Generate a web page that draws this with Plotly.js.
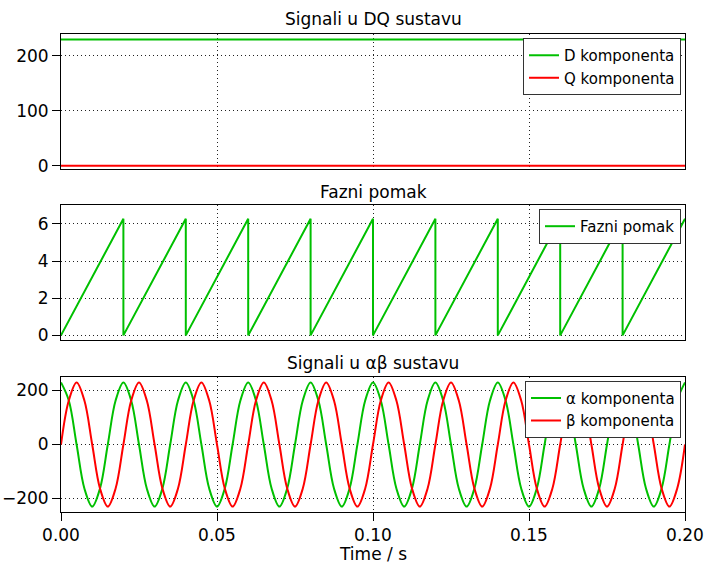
<!DOCTYPE html>
<html><head><meta charset="utf-8">
<script src="https://cdn.plot.ly/plotly-3.0.1.min.js"></script>
<style>html,body{margin:0;padding:0;background:#fff}#chart{width:712px;height:566px}</style>
</head><body><div id="chart"></div>
<script>
// --- data ---
const tDQ = [0, 0.2];
const dComp = [230, 230];
const qComp = [0, 0];

const tPhase = [0, 0.02, 0.02, 0.04, 0.04, 0.06, 0.06, 0.08, 0.08, 0.10, 0.10, 0.12, 0.12, 0.14, 0.14, 0.16, 0.16, 0.18, 0.18, 0.20];
const phase  = [0, 6.28, 0, 6.28, 0, 6.28, 0, 6.28, 0, 6.28, 0, 6.28, 0, 6.28, 0, 6.28, 0, 6.28, 0, 6.28];

const tAB = [
 0,0.0025,0.005,0.0075,0.01,0.0125,0.015,0.0175,
 0.02,0.0225,0.025,0.0275,0.03,0.0325,0.035,0.0375,
 0.04,0.0425,0.045,0.0475,0.05,0.0525,0.055,0.0575,
 0.06,0.0625,0.065,0.0675,0.07,0.0725,0.075,0.0775,
 0.08,0.0825,0.085,0.0875,0.09,0.0925,0.095,0.0975,
 0.1,0.1025,0.105,0.1075,0.11,0.1125,0.115,0.1175,
 0.12,0.1225,0.125,0.1275,0.13,0.1325,0.135,0.1375,
 0.14,0.1425,0.145,0.1475,0.15,0.1525,0.155,0.1575,
 0.16,0.1625,0.165,0.1675,0.17,0.1725,0.175,0.1775,
 0.18,0.1825,0.185,0.1875,0.19,0.1925,0.195,0.1975,
 0.2];
const alphaComp = [
 230,163,0,-163,-230,-163,0,163,
 230,163,0,-163,-230,-163,0,163,
 230,163,0,-163,-230,-163,0,163,
 230,163,0,-163,-230,-163,0,163,
 230,163,0,-163,-230,-163,0,163,
 230,163,0,-163,-230,-163,0,163,
 230,163,0,-163,-230,-163,0,163,
 230,163,0,-163,-230,-163,0,163,
 230,163,0,-163,-230,-163,0,163,
 230,163,0,-163,-230,-163,0,163,
 230];
const betaComp = [
 0,163,230,163,0,-163,-230,-163,
 0,163,230,163,0,-163,-230,-163,
 0,163,230,163,0,-163,-230,-163,
 0,163,230,163,0,-163,-230,-163,
 0,163,230,163,0,-163,-230,-163,
 0,163,230,163,0,-163,-230,-163,
 0,163,230,163,0,-163,-230,-163,
 0,163,230,163,0,-163,-230,-163,
 0,163,230,163,0,-163,-230,-163,
 0,163,230,163,0,-163,-230,-163,
 0];

const xTicks = [0, 0.05, 0.1, 0.15, 0.2];
const xTickText = ['0.00', '0.05', '0.10', '0.15', '0.20'];

const GREEN = '#00c000', RED = '#ff0000';
const FONT = 'DejaVu Sans, Verdana, sans-serif';

const traces = [
  {x: tDQ, y: dComp, name: 'D komponenta', type: 'scatter', mode: 'lines', line: {color: GREEN, width: 2}, xaxis: 'x', yaxis: 'y', legend: 'legend'},
  {x: tDQ, y: qComp, name: 'Q komponenta', type: 'scatter', mode: 'lines', line: {color: RED, width: 2}, xaxis: 'x', yaxis: 'y', legend: 'legend'},
  {x: tPhase, y: phase, name: 'Fazni pomak', type: 'scatter', mode: 'lines', line: {color: GREEN, width: 2}, xaxis: 'x2', yaxis: 'y2', legend: 'legend2'},
  {x: tAB, y: alphaComp, name: 'α komponenta', type: 'scatter', mode: 'lines', line: {color: GREEN, width: 2, shape: 'spline', smoothing: 1}, xaxis: 'x3', yaxis: 'y3', legend: 'legend3'},
  {x: tAB, y: betaComp, name: 'β komponenta', type: 'scatter', mode: 'lines', line: {color: RED, width: 2, shape: 'spline', smoothing: 1}, xaxis: 'x3', yaxis: 'y3', legend: 'legend3'}
];

const gridCommon = {showgrid: true, gridcolor: '#222', griddash: '1px,3px', gridwidth: 1, zeroline: false,
  showline: true, linecolor: '#000', linewidth: 1, mirror: true};

function xAx(anchor, labels) {
  return Object.assign({}, gridCommon, {
    range: [0, 0.2], anchor: anchor, tickvals: xTicks, ticktext: xTickText,
    showticklabels: labels, ticks: labels ? 'outside' : '', ticklen: 8, tickcolor: '#000',
    tickfont: {size: 17, color: '#000', family: FONT}
  });
}
function yAx(anchor, domain, range, tickvals) {
  return Object.assign({}, gridCommon, {
    domain: domain, anchor: anchor, range: range, tickvals: tickvals,
    ticks: 'outside', ticklen: 8, tickcolor: '#000',
    tickfont: {size: 17, color: '#000', family: FONT}
  });
}

const legendCommon = {xref: 'paper', yref: 'paper', xanchor: 'right', yanchor: 'top', x: 0.9936,
  bgcolor: '#fff', bordercolor: '#333', borderwidth: 1, font: {size: 15, color: '#000', family: FONT},
  tracegroupgap: 0, itemwidth: 30};

const layout = {
  width: 712, height: 566,
  margin: {l: 61, r: 27, t: 34, b: 54},
  paper_bgcolor: '#fff', plot_bgcolor: '#fff',
  font: {family: FONT, size: 17, color: '#000'},
  showlegend: true,
  xaxis: xAx('y', false),
  xaxis2: Object.assign(xAx('y2', false), {matches: 'x'}),
  xaxis3: Object.assign(xAx('y3', true), {matches: 'x'}),
  yaxis: yAx('x', [0.7182, 1], [-5.5, 240], [0, 100, 200]),
  yaxis2: yAx('x2', [0.359, 0.6414], [-0.27, 7], [0, 2, 4, 6]),
  yaxis3: yAx('x3', [0, 0.2824], [-250, 250], [-200, 0, 200]),
  legend: Object.assign({}, legendCommon, {y: 0.9916}),
  legend2: Object.assign({}, legendCommon, {y: 0.634}),
  legend3: Object.assign({}, legendCommon, {y: 0.2747}),
  annotations: [
    {text: 'Signali u DQ sustavu', xref: 'paper', yref: 'paper', x: 0.5, y: 1.032, xanchor: 'center', yanchor: 'middle', showarrow: false, font: {size: 17, color: '#000', family: FONT}},
    {text: 'Fazni pomak', xref: 'paper', yref: 'paper', x: 0.5, y: 0.670, xanchor: 'center', yanchor: 'middle', showarrow: false, font: {size: 17, color: '#000', family: FONT}},
    {text: 'Signali u αβ sustavu', xref: 'paper', yref: 'paper', x: 0.5, y: 0.3123, xanchor: 'center', yanchor: 'middle', showarrow: false, font: {size: 17, color: '#000', family: FONT}},
    {text: 'Time / s', xref: 'paper', yref: 'paper', x: 0.5, y: -0.088, xanchor: 'center', yanchor: 'middle', showarrow: false, font: {size: 17, color: '#000', family: FONT}}
  ]
};

Plotly.newPlot('chart', traces, layout, {displayModeBar: false, staticPlot: true});
</script>
</body></html>
